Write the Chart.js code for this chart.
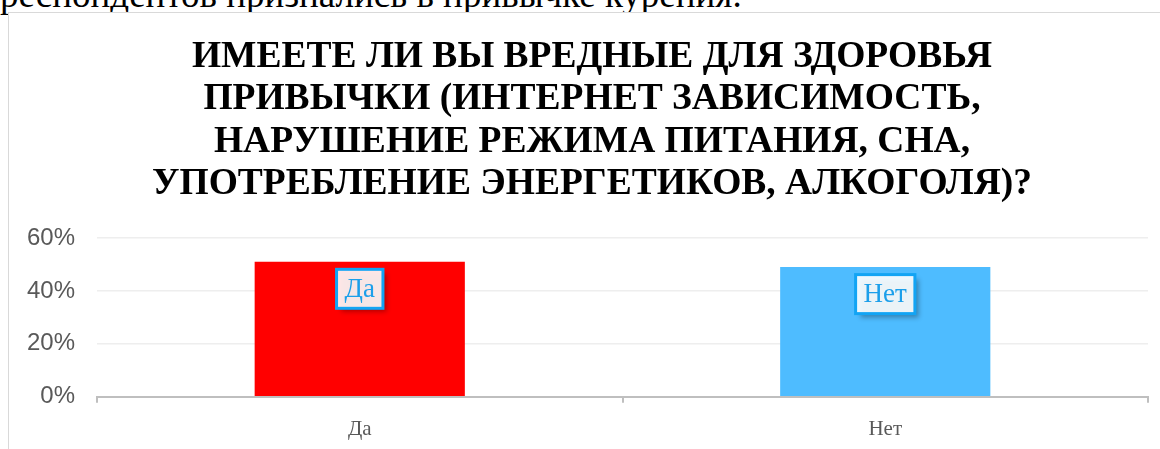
<!DOCTYPE html>
<html lang="ru">
<head>
<meta charset="utf-8">
<script src="https://cdn.jsdelivr.net/npm/chart.js@4.4.0/dist/chart.umd.min.js"></script>
<style>
  body { margin: 0; background: #fff; overflow: hidden; width: 1160px; height: 449px; position: relative; }
  #pageText {
    position: absolute; left: 0; top: -24px; white-space: nowrap;
    font: 37px/37px "Liberation Serif", "Times New Roman", serif; color: #000;
  }
  #box {
    position: absolute; left: 8px; top: 12px; width: 1200px; height: 460px;
    border: 1px solid #d9d9d9; background: #fff;
  }
</style>
</head>
<body>
<div id="pageText">респондентов признались в привычке курения.</div>
<div id="box"><canvas id="habitChart" width="1190" height="450"></canvas></div>
<script>
// survey: bad habits chart

const categories = ['Да', 'Нет'];
const answerShares = [0.51, 0.49];
const barColors = ['#ff0000', '#4ebcff'];
const yTicks = [0, 0.2, 0.4, 0.6];
const titleLines = [
    'ИМЕЕТЕ ЛИ ВЫ ВРЕДНЫЕ ДЛЯ ЗДОРОВЬЯ',
    'ПРИВЫЧКИ (ИНТЕРНЕТ ЗАВИСИМОСТЬ,',
    'НАРУШЕНИЕ РЕЖИМА ПИТАНИЯ, СНА,',
    'УПОТРЕБЛЕНИЕ ЭНЕРГЕТИКОВ, АЛКОГОЛЯ)?'
];

const serif = '"Liberation Serif", "Times New Roman", serif';

// title is centred on the whole chart box, not on the plot, so draw it here
const boxTitle = {
    id: 'boxTitle',
    afterDraw(chart) {
        const ctx = chart.ctx;
        ctx.save();
        ctx.font = 'bold 37.5px ' + serif;
        ctx.fillStyle = '#000';
        ctx.textAlign = 'center';
        ctx.textBaseline = 'alphabetic';
        titleLines.forEach(function(line, i) {
            ctx.fillText(line, 583, 54 + i * 42.3);
        });
        ctx.restore();
    }
};

// boxed labels drawn inside the top of each bar
const boxedLabels = {
    id: 'boxedLabels',
    afterDatasetsDraw(chart) {
        const ctx = chart.ctx;
        const meta = chart.getDatasetMeta(0);
        ctx.save();
        ctx.font = '27px ' + serif;
        ctx.textAlign = 'center';
        ctx.textBaseline = 'middle';
        meta.data.forEach(function(bar, i) {
            const text = categories[i];
            const w = ctx.measureText(text).width + 16;
            const h = 39;
            const cx = bar.x;
            const cy = bar.y + 27;
            ctx.save();
            ctx.shadowColor = 'rgba(0, 0, 0, 0.35)';
            ctx.shadowBlur = 5;
            ctx.shadowOffsetX = 4;
            ctx.shadowOffsetY = 4;
            ctx.fillStyle = 'rgba(255, 255, 255, 0.9)';
            ctx.fillRect(cx - w / 2, cy - h / 2, w, h);
            ctx.restore();
            ctx.lineWidth = 3;
            ctx.strokeStyle = '#12a4f4';
            ctx.strokeRect(cx - w / 2, cy - h / 2, w, h);
            ctx.fillStyle = '#1c9fea';
            ctx.fillText(text, cx, cy + 1);
        });
        ctx.restore();
    }
};

const ctx = document.getElementById('habitChart').getContext('2d');
const habitChart = new Chart(ctx, {
    type: 'bar',
    data: {
        labels: categories,
        datasets: [{
            data: answerShares,
            backgroundColor: barColors,
            borderWidth: 0,
            barPercentage: 0.4,
            categoryPercentage: 1
        }]
    },
    options: {
        responsive: false,
        animation: false,
        devicePixelRatio: 1,
        layout: { padding: { left: 0, right: 51, top: 225, bottom: 7 } },
        plugins: {
            legend: { display: false },
            tooltip: { enabled: false },
            title: { display: false }
        },
        scales: {
            x: {
                grid: {
                    drawOnChartArea: false,
                    drawTicks: true,
                    tickLength: 6,
                    color: '#bfbfbf',
                    lineWidth: 2
                },
                border: { display: true, color: '#bfbfbf', width: 2 },
                ticks: {
                    color: '#595959',
                    font: { family: serif, size: 21 },
                    padding: 14
                }
            },
            y: {
                min: 0,
                max: 0.6,
                afterBuildTicks: function(scale) {
                    scale.ticks = yTicks.map(v => ({ value: v }));
                },
                afterFit: function(scale) {
                    scale.width = 88;
                },
                grid: { color: '#eeeeee', lineWidth: 1.5, drawTicks: false },
                border: { display: false },
                ticks: {
                    color: '#595959',
                    font: { family: '"Liberation Sans", Arial, sans-serif', size: 24 },
                    padding: 22,
                    callback: function(value) {
                        return Math.round(value * 100) + '%';
                    }
                }
            }
        }
    },
    plugins: [boxedLabels, boxTitle]
});
</script>
</body>
</html>
